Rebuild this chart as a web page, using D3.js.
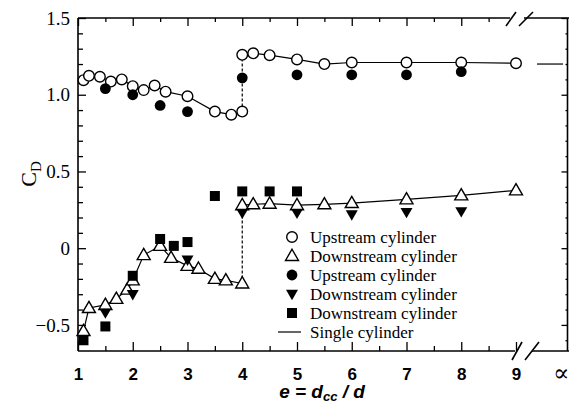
<!DOCTYPE html>
<html>
<head>
<meta charset="utf-8">
<script src="https://cdn.jsdelivr.net/npm/d3@7"></script>
<style>
  body { margin: 0; background: #fff; }
  svg { display: block; }
</style>
</head>
<body>
<div id="chart"></div>
<script>
(function() {

    var width = 569;
    var height = 404;

    // e = dcc/d values and drag coefficients
    var upstreamOpenLow = [[1.1, 1.095], [1.2, 1.123], [1.4, 1.117], [1.6, 1.086], [1.8, 1.10],
        [2.0, 1.056], [2.2, 1.03], [2.4, 1.06], [2.6, 1.02], [3.0, 0.99], [3.5, 0.89], [3.8, 0.87], [4.0, 0.89]];
    var upstreamOpenHigh = [[4.0, 1.26], [4.2, 1.27], [4.5, 1.258], [5.0, 1.23], [5.5, 1.20],
        [6, 1.21], [7, 1.21], [8, 1.21], [9, 1.205]];

    var downstreamOpenLow = [[1.1, -0.54], [1.2, -0.39], [1.5, -0.37], [1.7, -0.33], [1.9, -0.27],
        [2.0, -0.21], [2.2, -0.045], [2.5, 0.015], [2.7, -0.063], [3.0, -0.115], [3.2, -0.134],
        [3.5, -0.2], [3.7, -0.21], [4.0, -0.23]];
    var downstreamOpenHigh = [[4.0, 0.28], [4.2, 0.286], [4.5, 0.29], [5.0, 0.28], [5.5, 0.286],
        [6, 0.294], [7, 0.318], [8, 0.344], [9, 0.377]];

    var upstreamFilled = [[1.5, 1.04], [2.0, 1.0], [2.5, 0.93], [3.0, 0.89], [4.0, 1.11],
        [5, 1.13], [6, 1.13], [7, 1.13], [8, 1.15]];
    var downstreamFilledTri = [[1.5, -0.42], [2.0, -0.30], [3.0, -0.075], [4.0, 0.23],
        [5, 0.23], [6, 0.22], [7, 0.235], [8, 0.24]];
    var downstreamSquare = [[1.1, -0.6], [1.5, -0.51], [2.0, -0.18], [2.5, 0.06], [2.75, 0.015],
        [3.0, 0.04], [3.5, 0.34], [4.0, 0.37], [4.5, 0.37], [5.0, 0.37]];

    var singleCylinderCd = 1.2;

    var xTicks = [1, 2, 3, 4, 5, 6, 7, 8, 9];
    var xMinorTicks = [1.5, 2.5, 3.5, 4.5, 5.5, 6.5, 7.5, 8.5];
    var yTicks = [-0.5, 0, 0.5, 1.0, 1.5];
    var yTickLabels = ["\u22120.5", "0", "0.5", "1.0", "1.5"];
    var yMinorTicks = d3.range(-6, 15).map(d => d / 10).filter(d => Math.abs(d * 2 - Math.round(d * 2)) > 0.01);

    var legendLabels = ["Upstream cylinder", "Downstream cylinder", "Upstream cylinder",
        "Downstream cylinder", "Downstream cylinder", "Single cylinder"];
    var legendMarks = ["circleOpen", "triOpen", "circleFilled", "triDown", "square", "line"];

    var svg = d3.select("#chart")
        .append("svg")
        .attr("width", width)
        .attr("height", height);

    var x = d3.scaleLinear().domain([1, 9]).range([78, 516]);
    var y = d3.scaleLinear().domain([-0.67, 1.5]).range([351, 18]);

    var left = 78, right = 567.5, top = 18, bottom = 351;

    // axes with inward ticks
    var gBottom = svg.append("g").attr("transform", "translate(0," + bottom + ")");
    gBottom.call(d3.axisBottom(x).tickValues(xTicks).tickSize(-9).tickPadding(17).tickFormat(d3.format("d")));
    gBottom.append("g").call(d3.axisBottom(x).tickValues(xMinorTicks).tickSize(-5).tickFormat(""));

    var gTop = svg.append("g").attr("transform", "translate(0," + top + ")");
    gTop.call(d3.axisTop(x).tickValues(xTicks.slice(0, 8)).tickSize(-8).tickFormat(""));
    gTop.append("g").call(d3.axisTop(x).tickValues(xMinorTicks).tickSize(-4).tickFormat(""));

    var gLeft = svg.append("g").attr("transform", "translate(" + left + ",0)");
    gLeft.call(d3.axisLeft(y).tickValues(yTicks).tickSize(-8).tickPadding(8)
        .tickFormat((d, i) => yTickLabels[i]));
    gLeft.append("g").call(d3.axisLeft(y).tickValues(yMinorTicks).tickSize(-5).tickFormat(""));

    var gRight = svg.append("g").attr("transform", "translate(" + right + ",0)");
    gRight.call(d3.axisRight(y).tickValues(yTicks).tickSize(-6).tickFormat(""));
    gRight.append("g").call(d3.axisRight(y).tickValues(yMinorTicks).tickSize(-2).tickFormat(""));

    svg.selectAll(".domain").remove();
    svg.selectAll(".tick line").attr("stroke", "#000").attr("stroke-width", 1.3);

    gBottom.selectAll(".tick text")
        .attr("font-family", "'Liberation Sans', Arial, sans-serif")
        .attr("font-weight", "bold")
        .attr("font-size", 17)
        .attr("fill", "#000");
    gLeft.selectAll(".tick text")
        .attr("font-family", "'Liberation Serif', 'Times New Roman', serif")
        .attr("font-size", 19)
        .attr("fill", "#000");

    // frame lines with the axis break after 9
    var frame = svg.append("g").attr("stroke", "#000").attr("stroke-width", 1.6).attr("fill", "none");
    frame.append("line").attr("x1", left).attr("x2", left).attr("y1", top).attr("y2", bottom);
    frame.append("line").attr("x1", right).attr("x2", right).attr("y1", top).attr("y2", bottom);
    frame.append("line").attr("x1", left).attr("x2", 515).attr("y1", bottom).attr("y2", bottom);
    frame.append("line").attr("x1", 532).attr("x2", width).attr("y1", bottom).attr("y2", bottom);
    frame.append("line").attr("x1", left).attr("x2", 510).attr("y1", top).attr("y2", top);
    frame.append("line").attr("x1", 524).attr("x2", width).attr("y1", top).attr("y2", top);
    [[512, 522], [525, 539]].forEach(function(s) {
        frame.append("line").attr("x1", s[0]).attr("y1", bottom + 9).attr("x2", s[1]).attr("y2", bottom - 9);
    });
    [[506, 516], [519, 533]].forEach(function(s) {
        frame.append("line").attr("x1", s[0]).attr("y1", top + 8).attr("x2", s[1]).attr("y2", top - 6);
    });

    svg.append("text")
        .attr("x", 561).attr("y", 381)
        .attr("text-anchor", "middle")
        .attr("font-family", "'DejaVu Serif', serif")
        .attr("font-size", 24)
        .text("\u221d");

    // single cylinder value at e = infinity
    svg.append("line")
        .attr("x1", 537).attr("x2", 563)
        .attr("y1", y(singleCylinderCd)).attr("y2", y(singleCylinderCd))
        .attr("stroke", "#000").attr("stroke-width", 1.2);

    // connecting lines
    var line = d3.line().x(d => x(d[0])).y(d => y(d[1]));
    [upstreamOpenLow, upstreamOpenHigh, downstreamOpenLow, downstreamOpenHigh].forEach(function(s) {
        svg.append("path").datum(s).attr("d", line)
            .attr("fill", "none").attr("stroke", "#000").attr("stroke-width", 1.2);
    });
    [[upstreamOpenLow, upstreamOpenHigh], [downstreamOpenLow, downstreamOpenHigh]].forEach(function(p) {
        var a = p[0][p[0].length - 1], b = p[1][0];
        svg.append("line")
            .attr("x1", x(a[0])).attr("x2", x(b[0])).attr("y1", y(a[1])).attr("y2", y(b[1]))
            .attr("stroke", "#000").attr("stroke-width", 1.2).attr("stroke-dasharray", "3,2");
    });

    function triPath(cx, cy, s, down) {
        var h = s * Math.sqrt(3) / 2;
        var k = down ? -1 : 1;
        return "M" + cx + "," + (cy - k * h * 0.6) + "L" + (cx + s / 2) + "," + (cy + k * h * 0.4) +
            "L" + (cx - s / 2) + "," + (cy + k * h * 0.4) + "Z";
    }

    function drawMark(g, type, cx, cy) {
        if (type === "circleOpen") {
            g.append("circle").attr("cx", cx).attr("cy", cy).attr("r", 5.3)
                .attr("fill", "#fff").attr("stroke", "#000").attr("stroke-width", 1.4);
        } else if (type === "circleFilled") {
            g.append("circle").attr("cx", cx).attr("cy", cy).attr("r", 5.4).attr("fill", "#000");
        } else if (type === "triOpen") {
            g.append("path").attr("d", triPath(cx, cy, 13, false))
                .attr("fill", "#fff").attr("stroke", "#000").attr("stroke-width", 1.4);
        } else if (type === "triDown") {
            g.append("path").attr("d", triPath(cx, cy, 12, true)).attr("fill", "#000");
        } else if (type === "square") {
            g.append("rect").attr("x", cx - 5).attr("y", cy - 5).attr("width", 10).attr("height", 10).attr("fill", "#000");
        } else if (type === "line") {
            g.append("line").attr("x1", cx - 14).attr("x2", cx + 9).attr("y1", cy).attr("y2", cy)
                .attr("stroke", "#000").attr("stroke-width", 1.2);
        }
    }

    var marks = svg.append("g");
    upstreamOpenLow.concat(upstreamOpenHigh).forEach(d => drawMark(marks, "circleOpen", x(d[0]), y(d[1])));
    downstreamOpenLow.concat(downstreamOpenHigh).forEach(d => drawMark(marks, "triOpen", x(d[0]), y(d[1])));
    upstreamFilled.forEach(d => drawMark(marks, "circleFilled", x(d[0]), y(d[1])));
    downstreamFilledTri.forEach(d => drawMark(marks, "triDown", x(d[0]), y(d[1])));
    downstreamSquare.forEach(d => drawMark(marks, "square", x(d[0]), y(d[1])));

    // legend
    var legend = svg.append("g");
    legendLabels.forEach(function(label, i) {
        var ly = 237 + i * 19;
        drawMark(legend, legendMarks[i], 292, ly);
        legend.append("text")
            .attr("x", 310).attr("y", ly).attr("dy", "0.33em")
            .attr("font-family", "'Liberation Serif', 'Times New Roman', serif")
            .attr("font-size", 17)
            .text(label);
    });

    // axis titles
    var xt = svg.append("text")
        .attr("x", 322).attr("y", 398)
        .attr("text-anchor", "middle")
        .attr("font-family", "'Liberation Sans', Arial, sans-serif")
        .attr("font-weight", "bold").attr("font-style", "italic")
        .attr("font-size", 19);
    xt.append("tspan").text("e = d");
    xt.append("tspan").attr("font-size", 13).attr("dy", 3).text("cc");
    xt.append("tspan").attr("dy", -3).text(" / d");

    var yt = svg.append("text")
        .attr("transform", "translate(36,174) rotate(-90)")
        .attr("text-anchor", "middle")
        .attr("font-family", "'Liberation Serif', 'Times New Roman', serif")
        .attr("font-size", 22);
    yt.append("tspan").text("C");
    yt.append("tspan").attr("font-size", 15).attr("dy", 5).text("D");

})();
</script>
</body>
</html>
